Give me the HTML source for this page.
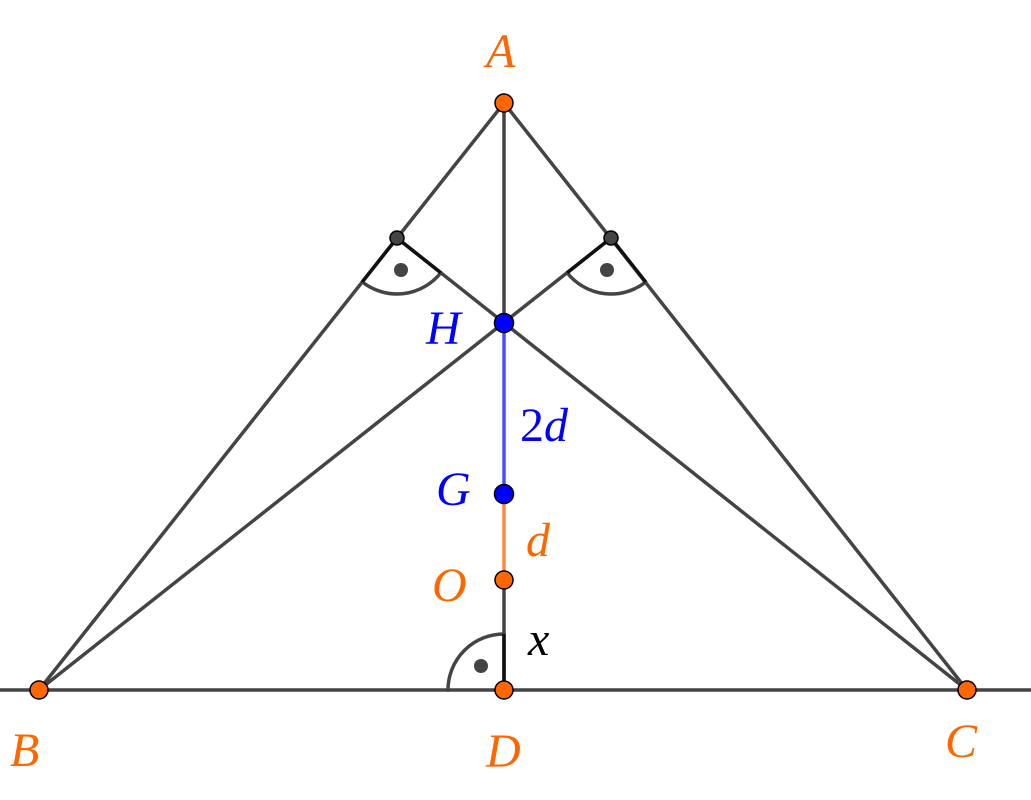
<!DOCTYPE html>
<html><head><style>body{margin:0;background:#fff}svg{display:block}</style></head><body>
<svg width="1031" height="800" viewBox="0 0 1031 800" xmlns="http://www.w3.org/2000/svg">
<g stroke="#444" stroke-width="3.5" fill="none" stroke-linecap="round">
<line x1="0" y1="690" x2="1031" y2="690"/>
<line x1="504" y1="103" x2="39" y2="690"/>
<line x1="504" y1="103" x2="967" y2="690"/>
<line x1="504" y1="103" x2="504" y2="323"/>
<line x1="504" y1="580" x2="504" y2="690"/>
<line x1="39" y1="690" x2="611" y2="238"/>
<line x1="967" y1="690" x2="397" y2="238"/>
<path d="M362.2,281.9 A56,56 0 0 0 440.8,272.8"/>
<path d="M567.2,272.8 A56,56 0 0 0 645.7,282"/>
<path d="M448,690 A56,56 0 0 1 504,634"/>
</g>
<g stroke="#111" stroke-width="3.5">
<line x1="397" y1="238" x2="362.2" y2="281.9"/>
<line x1="397" y1="238" x2="440.8" y2="272.8"/>
<line x1="611" y1="238" x2="645.7" y2="282"/>
<line x1="611" y1="238" x2="567.2" y2="272.8"/>
<line x1="504" y1="634" x2="504" y2="690"/>
</g>
<line x1="504" y1="323" x2="504" y2="494" stroke="#4d4dff" stroke-width="3.5"/>
<line x1="504" y1="494" x2="504" y2="580" stroke="#ff8a3d" stroke-width="3.5"/>
<g fill="#444">
<circle cx="401" cy="270" r="7"/><circle cx="607" cy="270" r="7"/><circle cx="481" cy="666" r="7"/>
</g>
<g stroke="#000" stroke-width="1.5">
<circle cx="397" cy="238" r="7" fill="#444"/><circle cx="611" cy="238" r="7" fill="#444"/>
<circle cx="504" cy="103" r="9" fill="#ff6600"/>
<circle cx="39" cy="690" r="9" fill="#ff6600"/>
<circle cx="967" cy="690" r="9" fill="#ff6600"/>
<circle cx="504" cy="690" r="9" fill="#ff6600"/>
<circle cx="504" cy="580" r="9" fill="#ff6600"/>
<circle cx="504" cy="323" r="9.5" fill="#0000ff"/>
<circle cx="504" cy="494" r="9.5" fill="#0000ff"/>
</g>
<g font-family="Liberation Serif, serif" font-style="italic" font-size="48">
<text x="486" y="67" fill="#ff6600">A</text>
<text x="10" y="766" fill="#ff6600">B</text>
<text x="945" y="757" fill="#ff6600">C</text>
<text x="486" y="767" fill="#ff6600">D</text>
<text x="432" y="601" fill="#ff6600">O</text>
<text x="526" y="556" fill="#ff6600">d</text>
<text x="426" y="344" fill="#0000ff">H</text>
<text x="436" y="505" fill="#0000ff">G</text>
<text x="520" y="441" fill="#0000ff"><tspan font-style="normal">2</tspan>d</text>
<text x="528" y="655" fill="#000">x</text>
</g>
</svg>
</body></html>
